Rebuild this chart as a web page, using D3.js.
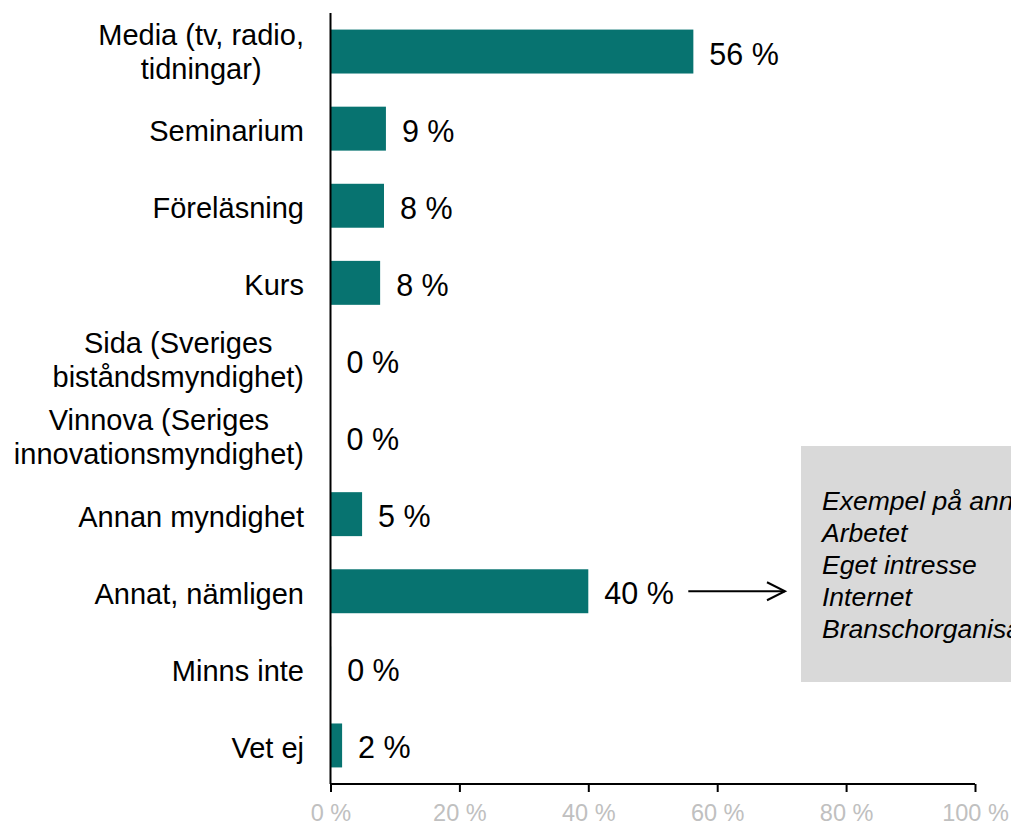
<!DOCTYPE html>
<html>
<head>
<meta charset="utf-8">
<script src="https://cdn.jsdelivr.net/npm/d3@7"></script>
<style>
  html, body { margin: 0; padding: 0; background: #fff; }
  svg { display: block; font-family: "Liberation Sans", Arial, sans-serif; }
</style>
</head>
<body>
<svg id="chart" width="1011" height="825"></svg>
<script>
const categories = [
  ["Media (tv, radio,", "tidningar)"],
  ["Seminarium"],
  ["Föreläsning"],
  ["Kurs"],
  ["Sida (Sveriges", "biståndsmyndighet)"],
  ["Vinnova (Seriges", "innovationsmyndighet)"],
  ["Annan myndighet"],
  ["Annat, nämligen"],
  ["Minns inte"],
  ["Vet ej"]
];
const values = [56.3, 8.6, 8.3, 7.7, 0, 0, 4.9, 40, 0.1, 1.8];
const valueLabels = ["56 %", "9 %", "8 %", "8 %", "0 %", "0 %", "5 %", "40 %", "0 %", "2 %"];
const xTicks = [0, 20, 40, 60, 80, 100];
const xTickLabels = ["0 %", "20 %", "40 %", "60 %", "80 %", "100 %"];
const noteTitle = "Exempel på annat:";
const noteItems = ["Arbetet", "Eget intresse", "Internet", "Branschorganisationer"];

(function () {
const svg = d3.select("#chart");
const pL = 330.5, pR = 975, pT = 13, pB = 784;
const barColor = "#077370";

const x = d3.scaleLinear().domain([0, 100]).range([pL, pR]);
const y = d3.scaleBand().domain(d3.range(categories.length)).range([pT, pB])
  .paddingInner(0.43).paddingOuter(0.215);

// bars
svg.append("g").selectAll("rect").data(values).join("rect")
  .attr("x", x(0))
  .attr("y", (d, i) => y(i))
  .attr("width", d => x(d) - x(0))
  .attr("height", y.bandwidth())
  .attr("fill", barColor);

// value labels
svg.append("g").selectAll("text").data(values).join("text")
  .attr("x", d => x(d) + 16)
  .attr("y", (d, i) => y(i) + y.bandwidth() / 2 + 2)
  .attr("dy", "0.36em")
  .attr("font-size", 30.5)
  .attr("fill", "#000")
  .text((d, i) => valueLabels[i]);

// category labels
const catG = svg.append("g");
categories.forEach((lines, i) => {
  const cy = y(i) + y.bandwidth() / 2;
  const g = catG.append("g");
  const n = lines.length;
  const lh = 34;
  const off = n === 1 ? 2 : 0;
  const texts = lines.map((t, k) => g.append("text")
    .attr("font-size", 29)
    .attr("fill", "#000")
    .attr("y", cy + (k - (n - 1) / 2) * lh + off)
    .attr("dy", "0.36em")
    .text(t));
  const widths = texts.map(t => t.node().getComputedTextLength());
  const maxW = d3.max(widths);
  const center = 304 - maxW / 2;
  texts.forEach(t => t.attr("x", center).attr("text-anchor", "middle"));
});

// x axis
const xAxis = d3.axisBottom(x).tickValues(xTicks).tickSize(8).tickFormat((d, i) => xTickLabels[i]);
const axG = svg.append("g").attr("transform", `translate(0,${pB})`).call(xAxis);
axG.select(".domain").attr("stroke", "#000").attr("stroke-width", 2).attr("d", `M${pL},0H${pR}`);
axG.selectAll(".tick line").attr("stroke", "#000").attr("stroke-width", 2);
axG.selectAll(".tick text").attr("fill", "#c0c0c0").attr("font-size", 23.5)
  .attr("font-family", "'Liberation Sans', Arial, sans-serif").attr("y", 29).attr("dy", "0.36em");

// y axis line
svg.append("line").attr("x1", pL).attr("x2", pL).attr("y1", pT).attr("y2", pB)
  .attr("stroke", "#000").attr("stroke-width", 2);

// annotation arrow
const annIdx = 7;
const ay = y(annIdx) + y.bandwidth() / 2;
const ax0 = x(values[annIdx]) + 100, ax1 = 785;
svg.append("line").attr("x1", ax0).attr("x2", ax1).attr("y1", ay).attr("y2", ay)
  .attr("stroke", "#000").attr("stroke-width", 2);
svg.append("path").attr("d", `M${ax1 - 18},${ay - 9}L${ax1},${ay}L${ax1 - 18},${ay + 9}`)
  .attr("fill", "none").attr("stroke", "#000").attr("stroke-width", 2);

// note box
svg.append("rect").attr("x", 801).attr("y", 446).attr("width", 260).attr("height", 236)
  .attr("fill", "#d9d9d9");
const noteLines = [noteTitle].concat(noteItems);
svg.append("g").selectAll("text").data(noteLines).join("text")
  .attr("x", 822)
  .attr("y", (d, i) => 500 + i * 32)
  .attr("dy", "0.36em")
  .attr("font-size", 26.5)
  .attr("font-style", "italic")
  .attr("fill", "#000")
  .text(d => d);
})();
</script>
</body>
</html>
